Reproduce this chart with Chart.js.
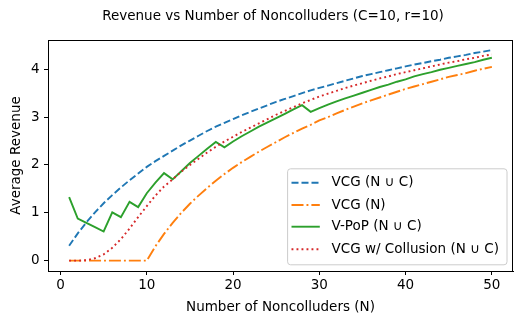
<!DOCTYPE html>
<html>
<head>
<meta charset="utf-8">
<script src="https://cdn.jsdelivr.net/npm/chart.js@4.4.1/dist/chart.umd.min.js"></script>
<style>
  html, body { margin: 0; padding: 0; background: #fff; }
  #c { display: block; }
</style>
</head>
<body>
<canvas id="c" width="523" height="324"></canvas>
<script>
// ---- Data ----
const noncolluders = [1,2,3,4,5,6,7,8,9,10,11,12,13,14,15,16,17,18,19,20,21,22,23,24,25,26,27,28,29,30,31,32,33,34,35,36,37,38,39,40,41,42,43,44,45,46,47,48,49,50];

const vcgAll = [0.31,0.57,0.80,1.01,1.20,1.37,1.53,1.68,1.82,1.96,2.08,2.19,2.30,2.41,2.51,2.61,2.71,2.80,2.88,2.96,3.04,3.11,3.18,3.25,3.32,3.38,3.44,3.50,3.56,3.61,3.66,3.71,3.76,3.81,3.86,3.90,3.94,3.98,4.02,4.06,4.10,4.13,4.17,4.20,4.24,4.27,4.30,4.34,4.37,4.40];

const vcgN = [0,0,0,0,0,0,0,0,0,0,0.30,0.56,0.79,1.00,1.19,1.36,1.52,1.67,1.81,1.94,2.06,2.17,2.28,2.38,2.48,2.58,2.67,2.76,2.84,2.93,3.00,3.08,3.15,3.22,3.29,3.35,3.41,3.47,3.53,3.59,3.64,3.69,3.74,3.79,3.84,3.88,3.92,3.97,4.01,4.05];

const vpop = [1.33,0.88,0.79,0.70,0.61,1.01,0.91,1.23,1.12,1.41,1.63,1.83,1.70,1.87,2.04,2.19,2.34,2.48,2.37,2.49,2.60,2.70,2.80,2.89,2.98,3.07,3.16,3.25,3.11,3.19,3.26,3.33,3.39,3.45,3.51,3.57,3.63,3.68,3.74,3.79,3.85,3.90,3.94,3.99,4.03,4.07,4.11,4.15,4.20,4.24];

const vcgCollusion = [0,0,0.01,0.05,0.13,0.27,0.45,0.67,0.91,1.14,1.36,1.55,1.70,1.86,2.00,2.13,2.26,2.38,2.49,2.59,2.69,2.78,2.87,2.96,3.05,3.13,3.21,3.29,3.36,3.43,3.49,3.55,3.61,3.66,3.71,3.76,3.81,3.85,3.90,3.94,3.98,4.02,4.06,4.10,4.14,4.17,4.21,4.24,4.28,4.31];

const seriesLabels = ['VCG (N \u222A C)', 'VCG (N)', 'V-PoP (N \u222A C)', 'VCG w/ Collusion (N \u222A C)'];
const xTicks = [0,10,20,30,40,50];
const yTicks = [0,1,2,3,4];
const titleText = 'Revenue vs Number of Noncolluders (C=10, r=10)';
const xLabel = 'Number of Noncolluders (N)';
const yLabel = 'Average Revenue';

// ---- Styles ----
const FONT = "'DejaVu Sans', sans-serif";
const FS = 13.5;
const LW = 1.9;
const toPts = ys => ys.map((y, i) => ({ x: noncolluders[i], y }));

const datasets = [
  { label: seriesLabels[0], data: toPts(vcgAll), borderColor: '#1f77b4', borderDash: [7, 3], order: 4 },
  { label: seriesLabels[1], data: toPts(vcgN), borderColor: '#ff7f0e', borderDash: [12, 3, 1.9, 3], order: 3 },
  { label: seriesLabels[2], data: toPts(vpop), borderColor: '#2ca02c', borderDash: [], order: 2 },
  { label: seriesLabels[3], data: toPts(vcgCollusion), borderColor: '#d62728', borderDash: [1.9, 3.1], order: 1 }
].map(d => Object.assign(d, { borderWidth: LW, pointRadius: 0, fill: false, tension: 0, borderCapStyle: 'butt' }));

const framePlugin = {
  id: 'frame',
  afterDraw(chart) {
    const { ctx, chartArea: a } = chart;
    ctx.save();
    ctx.strokeStyle = '#000';
    ctx.lineWidth = 1;
    ctx.strokeRect(Math.round(a.left) + 0.5, Math.round(a.top) + 0.5, Math.round(a.right - a.left) - 1, Math.round(a.bottom - a.top));
    // title
    ctx.fillStyle = '#000';
    ctx.font = FS + 'px ' + FONT;
    ctx.textAlign = 'center';
    ctx.textBaseline = 'middle';
    ctx.fillText(titleText, 273, 16);
    // legend
    const w = 219.4, h = 96;
    const bx = a.right - 6.5 - w, by = a.bottom - 6.7 - h;
    ctx.beginPath();
    if (ctx.roundRect) ctx.roundRect(bx + 0.5, by + 0.5, w, h, 3); else ctx.rect(bx + 0.5, by + 0.5, w, h);
    ctx.fillStyle = 'rgba(255,255,255,0.8)';
    ctx.fill();
    ctx.strokeStyle = '#cccccc';
    ctx.lineWidth = 1;
    ctx.stroke();
    const rows = [14.4, 36.7, 58.4, 81];
    chart.data.datasets.forEach((ds, i) => {
      const y = by + rows[i];
      ctx.beginPath();
      ctx.setLineDash(ds.borderDash || []);
      ctx.strokeStyle = ds.borderColor;
      ctx.lineWidth = ds.borderWidth;
      ctx.lineCap = 'butt';
      ctx.moveTo(bx + 4.4, y);
      ctx.lineTo(bx + 32.7, y);
      ctx.stroke();
      ctx.setLineDash([]);
      ctx.fillStyle = '#000';
      ctx.textAlign = 'left';
      ctx.textBaseline = 'middle';
      ctx.font = FS + 'px ' + FONT;
      ctx.fillText(ds.label, bx + 44.4, y);
    });
    ctx.restore();
  }
};

new Chart(document.getElementById('c'), {
  type: 'line',
  data: { datasets },
  options: {
    responsive: false,
    animation: false,
    devicePixelRatio: 1,
    layout: { padding: { top: 40, right: 10, left: 0, bottom: 0 } },
    plugins: { legend: { display: false }, title: { display: false }, tooltip: { enabled: false } },
    scales: {
      x: {
        type: 'linear',
        min: -1.45, max: 52.45,
        afterBuildTicks: s => { s.ticks = xTicks.map(v => ({ value: v })); },
        afterFit: s => { s.height = 53; },
        ticks: { color: '#000', font: { family: FONT, size: FS }, padding: 2, maxRotation: 0, autoSkip: false, callback: v => String(v) },
        grid: { drawOnChartArea: false, drawTicks: true, tickLength: 4, color: '#000', tickWidth: 1 },
        border: { display: true, color: '#000', width: 1 },
        title: { display: true, text: xLabel, color: '#000', font: { family: FONT, size: FS }, padding: { top: 0, bottom: 8.9 } }
      },
      y: {
        type: 'linear',
        min: -0.216, max: 4.612,
        afterBuildTicks: s => { s.ticks = yTicks.map(v => ({ value: v })); },
        afterFit: s => { s.width = 48; },
        ticks: { color: '#000', font: { family: FONT, size: FS }, padding: 4.5, autoSkip: false, callback: v => String(v) },
        grid: { drawOnChartArea: false, drawTicks: true, tickLength: 4, color: '#000', tickWidth: 1 },
        border: { display: true, color: '#000', width: 1 },
        title: { display: true, text: yLabel, color: '#000', font: { family: FONT, size: FS }, padding: { top: 7.9, bottom: 0 } }
      }
    }
  },
  plugins: [framePlugin]
});
</script>
</body>
</html>
